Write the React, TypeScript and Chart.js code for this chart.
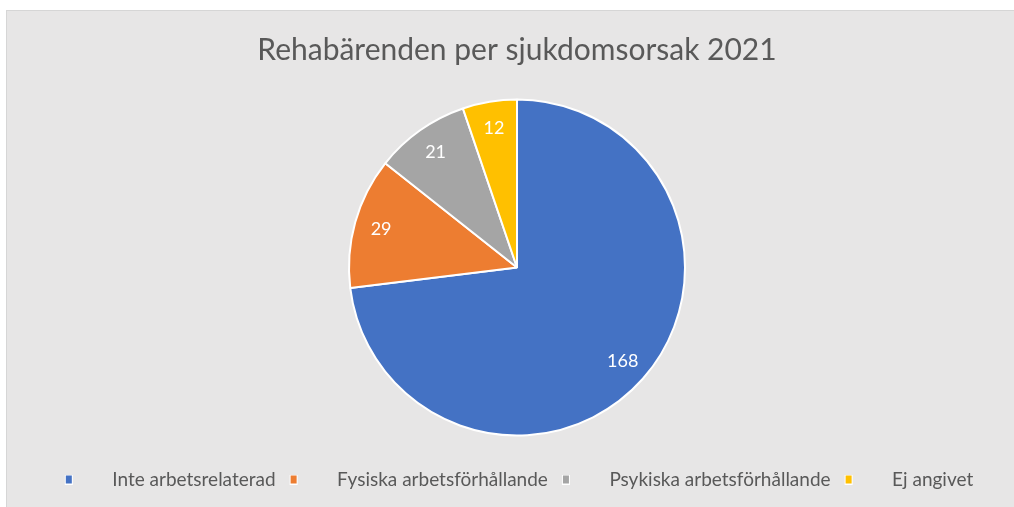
import React, { useEffect, useRef } from "react";
import { Chart, registerables } from "chart.js";

Chart.register(...registerables);

const titleText = "Rehabärenden per sjukdomsorsak 2021";
const categories = [
  "Inte arbetsrelaterad",
  "Fysiska arbetsförhållande",
  "Psykiska arbetsförhållande",
  "Ej angivet",
];
const values = [168, 29, 21, 12];
const colors = ["#4472c4", "#ed7d31", "#a5a5a5", "#ffc000"];

const FONT = "Lato, 'Noto Sans', sans-serif";
const TEXT_COLOR = "#595959";

function makeMarker(color: string): HTMLCanvasElement {
  const c = document.createElement("canvas");
  c.width = 42;
  c.height = 10;
  const ctx = c.getContext("2d")!;
  ctx.fillStyle = "#ffffff";
  ctx.fillRect(4, 0, 8, 10);
  ctx.fillStyle = color;
  ctx.fillRect(5, 1, 6, 8);
  return c;
}

const labelPlugin = {
  id: "sliceLabels",
  afterDatasetsDraw(chart: any) {
    const ctx = chart.ctx;
    const meta = chart.getDatasetMeta(0);
    ctx.save();
    ctx.fillStyle = "#ffffff";
    ctx.font = `18px ${FONT}`;
    ctx.textAlign = "center";
    ctx.textBaseline = "middle";
    meta.data.forEach((arc: any, i: number) => {
      const p = arc.getProps(["x", "y", "startAngle", "endAngle", "outerRadius"], true);
      const mid = (p.startAngle + p.endAngle) / 2;
      const r = p.outerRadius * 0.84;
      ctx.fillText(String(values[i]), p.x + Math.cos(mid) * r, p.y + Math.sin(mid) * r);
    });
    ctx.restore();
  },
};

export default function App() {
  const ref = useRef<HTMLCanvasElement>(null);

  useEffect(() => {
    if (!ref.current) return;
    const markers = colors.map(makeMarker);
    const chart = new Chart(ref.current, {
      type: "pie",
      data: {
        labels: categories,
        datasets: [
          {
            data: values,
            backgroundColor: colors,
            borderColor: "#ffffff",
            borderWidth: 2,
            hoverOffset: 0,
            radius: 168,
          } as any,
        ],
      },
      options: {
        responsive: false,
        animation: false,
        events: [],
        layout: { padding: { left: 20, right: 0, top: 0, bottom: 8 } },
        plugins: {
          title: {
            display: true,
            text: titleText,
            color: TEXT_COLOR,
            font: { family: FONT, size: 30, weight: "normal" },
            padding: { top: 32, bottom: 7 },
          },
          legend: {
            display: true,
            position: "bottom",
            labels: {
              usePointStyle: true,
              pointStyleWidth: 42,
              padding: 10,
              color: TEXT_COLOR,
              font: { family: FONT, size: 19 },
              generateLabels: (ch: any) => {
                const base = (Chart as any).overrides.pie.plugins.legend.labels.generateLabels(ch);
                return base.map((it: any, i: number) => ({
                  ...it,
                  pointStyle: markers[i],
                  fontColor: TEXT_COLOR,
                }));
              },
            },
          },
          tooltip: { enabled: false },
        },
      } as any,
      plugins: [labelPlugin],
    });
    return () => chart.destroy();
  }, []);

  return (
    <div style={{ position: "absolute", left: 0, top: 0, width: 1014, height: 507 }}>
      <div
        style={{
          position: "absolute",
          left: 6,
          top: 10,
          width: 1008,
          height: 497,
          boxSizing: "border-box",
          background: "#e7e6e6",
          borderTop: "1px solid #d6d6d6",
          borderLeft: "1px solid #d6d6d6",
        }}
      />
      <canvas
        ref={ref}
        width={1014}
        height={507}
        style={{ position: "absolute", left: 0, top: 0, width: 1014, height: 507 }}
      />
    </div>
  );
}
